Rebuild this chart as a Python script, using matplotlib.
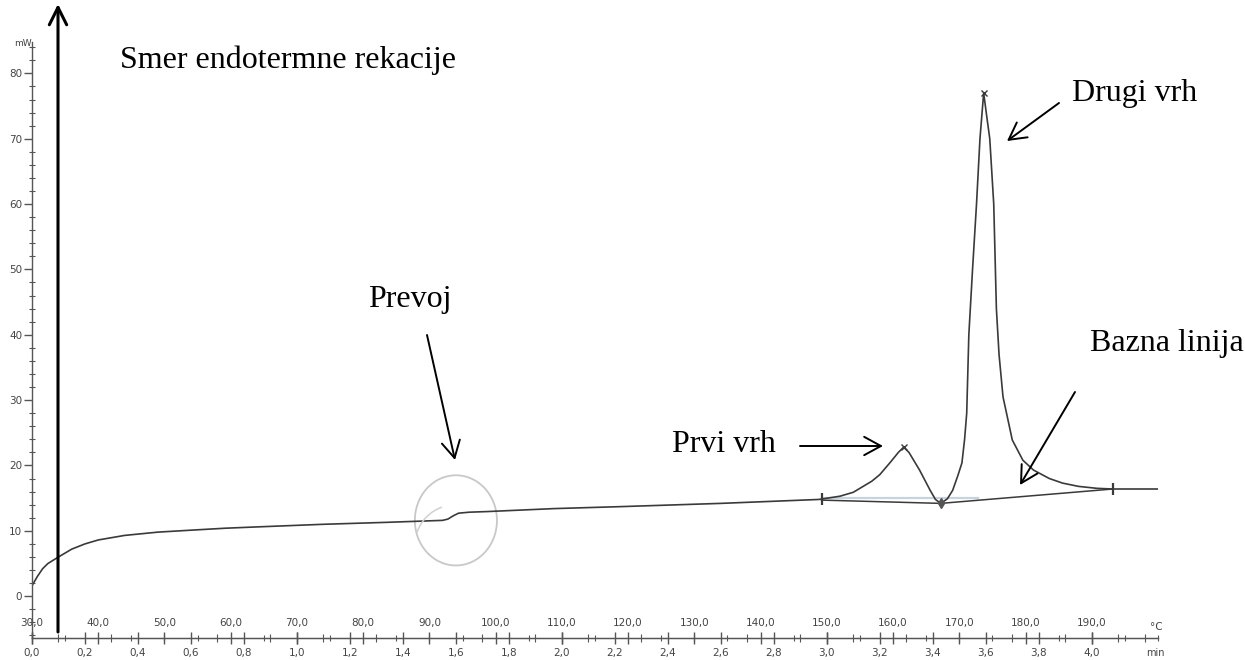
import matplotlib

matplotlib.use("Agg")
import matplotlib.pyplot as plt
from matplotlib.patches import Ellipse, Arc
from matplotlib.ticker import FixedLocator, MultipleLocator, FuncFormatter

# DSC curve: time (min) vs heat flow (mW)
time_min = [0.0, 0.02, 0.04, 0.06, 0.10, 0.15, 0.20, 0.25, 0.35, 0.475, 0.60, 0.73,
            0.85, 1.10, 1.34, 1.55, 1.57, 1.59, 1.61, 1.65, 1.72, 1.97, 2.22, 2.60,
            2.97, 3.05, 3.10, 3.17, 3.20, 3.24, 3.27, 3.29, 3.31, 3.35, 3.39, 3.41,
            3.43, 3.455, 3.475, 3.495, 3.51, 3.52, 3.528, 3.536, 3.55, 3.565, 3.578,
            3.592, 3.605, 3.615, 3.63, 3.64, 3.65, 3.665, 3.70, 3.74, 3.78, 3.84,
            3.89, 3.95, 4.02, 4.08, 4.26]
heat_mw = [1.6, 3.0, 4.2, 5.0, 6.0, 7.2, 8.0, 8.6, 9.3, 9.8, 10.1, 10.4,
           10.6, 11.0, 11.3, 11.6, 11.8, 12.3, 12.7, 12.85, 12.95, 13.4, 13.7, 14.2,
           14.8, 15.3, 15.9, 17.6, 18.6, 20.5, 22.0, 22.8, 22.0, 19.3, 16.2, 14.8,
           14.2, 14.9, 16.2, 18.5, 20.4, 24.0, 28.0, 40.0, 50.0, 60.0, 70.0,
           77.0, 73.0, 70.0, 60.0, 44.0, 37.0, 30.5, 23.9, 20.8, 19.3, 18.0,
           17.3, 16.8, 16.5, 16.4, 16.4]

# integration baseline drawn by the instrument software
base_t = [2.98, 3.43, 4.08]
base_mw = [14.7, 14.2, 16.4]
ref_t = [2.98, 3.57]
ref_mw = [15.0, 15.0]

peaks_t = [3.29, 3.592]
peaks_mw = [22.8, 77.0]
limits_t = [2.98, 4.08]
limits_mw = [14.8, 16.4]

y_ticks = [0, 10, 20, 30, 40, 50, 60, 70, 80]
time_ticks = [0.0, 0.2, 0.4, 0.6, 0.8, 1.0, 1.2, 1.4, 1.6, 1.8, 2.0, 2.2, 2.4,
              2.6, 2.8, 3.0, 3.2, 3.4, 3.6, 3.8, 4.0]
temp_ticks = [30, 40, 50, 60, 70, 80, 90, 100, 110, 120, 130, 140, 150, 160,
              170, 180, 190]

START_C = 30.0
RATE = 40.0  # degC per min

SERIF = "Liberation Serif"
TICK_COLOR = "#444444"


def comma(v, _pos=None):
    return f"{v:.1f}".replace(".", ",")


fig = plt.figure(figsize=(12.45, 6.60), dpi=100)
ax = fig.add_axes([32 / 1245, 22 / 660, 1126 / 1245, 596 / 660])
ax.set_xlim(0, 4.25)
ax.set_ylim(-6.4, 84.8)

for side in ("top", "right"):
    ax.spines[side].set_visible(False)
for side in ("left", "bottom"):
    ax.spines[side].set_color("#555555")
    ax.spines[side].set_linewidth(1.0)

# hand-drawn circle around the glass transition
ax.add_patch(Ellipse((1.60, 11.6), 0.31, 13.8, fill=False, ec="#c8c8c8", lw=1.3))
# small pen stroke inside it (inches, so the angles are not stretched)
fig.add_artist(Arc((4.55, 1.15), 0.8, 0.8, theta1=109, theta2=162,
                   transform=fig.dpi_scale_trans, ec="#d0d0d0", lw=1.1))

ax.plot(ref_t, ref_mw, color="#c9d3dc", lw=1.6)
ax.plot(base_t, base_mw, color="#3a3a3a", lw=1.1)
ax.plot(time_min, heat_mw, color="#3a3a3a", lw=1.2)
ax.plot(peaks_t, peaks_mw, ls="none", marker="x", ms=4, mew=1, color="#3a3a3a")
ax.plot(limits_t, limits_mw, ls="none", marker="|", ms=9, mew=1.6, color="#3a3a3a")
ax.plot([3.43], [14.2], ls="none", marker="d", ms=5, color="#555555")

# y axis
ax.yaxis.set_major_locator(FixedLocator(y_ticks))
ax.yaxis.set_minor_locator(MultipleLocator(2))
ax.tick_params(axis="y", which="major", direction="out", length=6, width=1,
               labelsize=7.5, labelcolor=TICK_COLOR, color="#555555", pad=1)
ax.tick_params(axis="y", which="minor", direction="inout", length=5, width=0.8,
               color="#555555")

# time axis (below)
ax.xaxis.set_major_locator(FixedLocator(time_ticks))
ax.xaxis.set_minor_locator(MultipleLocator(0.1))
ax.xaxis.set_major_formatter(FuncFormatter(comma))
ax.tick_params(axis="x", which="major", direction="inout", length=9, width=1,
               labelsize=7.5, labelcolor=TICK_COLOR, color="#555555", pad=3)
ax.tick_params(axis="x", which="minor", direction="inout", length=6, width=0.8,
               color="#555555")

# temperature axis (labels above the same line)
sec = ax.secondary_xaxis("top", functions=(lambda t: START_C + RATE * t,
                                           lambda c: (c - START_C) / RATE))
sec.set_location(0.0)
sec.xaxis.set_major_locator(FixedLocator(temp_ticks))
sec.xaxis.set_minor_locator(MultipleLocator(5))
sec.xaxis.set_major_formatter(FuncFormatter(comma))
sec.spines["top"].set_color("#555555")
sec.tick_params(axis="x", which="major", direction="inout", length=9, width=1,
                labelsize=7.5, labelcolor=TICK_COLOR, color="#555555", pad=3)
sec.tick_params(axis="x", which="minor", direction="inout", length=5, width=0.8,
                color="#555555")

fig.text(14 / 1245, 1 - 44 / 660, "mW", fontsize=6.5, color=TICK_COLOR, va="center")
fig.text(1150 / 1245, 1 - 627 / 660, "°C", fontsize=7.5, color=TICK_COLOR, va="center")
fig.text(1146 / 1245, 1 - 653 / 660, "min", fontsize=7, color=TICK_COLOR, va="center")

# annotations (positions in figure pixels, origin bottom-left)
H = 660
ax.annotate("", xy=(58, H - 4), xytext=(58, H - 632), xycoords="figure pixels",
            textcoords="figure pixels",
            arrowprops=dict(arrowstyle="->,head_length=0.5,head_width=0.25",
                            lw=2.2, color="black", mutation_scale=25,
                            shrinkA=0, shrinkB=0))
fig.text(120 / 1245, 1 - 60 / H, "Smer endotermne rekacije", family=SERIF,
         fontsize=23, va="center", ha="left")

thin = dict(arrowstyle="->,head_length=0.55,head_width=0.3", lw=1.4, color="black",
            mutation_scale=22, shrinkA=0, shrinkB=0)


def pointer(x0, y0, x1, y1):
    ax.annotate("", xy=(x1, H - y1), xytext=(x0, H - y0), xycoords="figure pixels",
                textcoords="figure pixels", arrowprops=thin)


pointer(427, 335, 455, 460)
fig.text(410 / 1245, 1 - 300 / H, "Prevoj", family=SERIF, fontsize=23,
         ha="center", va="center")

pointer(800, 446, 883, 446)
fig.text(724 / 1245, 1 - 445 / H, "Prvi vrh", family=SERIF, fontsize=23,
         ha="center", va="center")

pointer(1059, 103, 1007, 141)
fig.text(1072 / 1245, 1 - 93 / H, "Drugi vrh", family=SERIF, fontsize=23,
         ha="left", va="center")

pointer(1075, 392, 1020, 485)
fig.text(1090 / 1245, 1 - 343 / H, "Bazna linija", family=SERIF, fontsize=23,
         ha="left", va="center")

fig.savefig("out.png", dpi=100)
